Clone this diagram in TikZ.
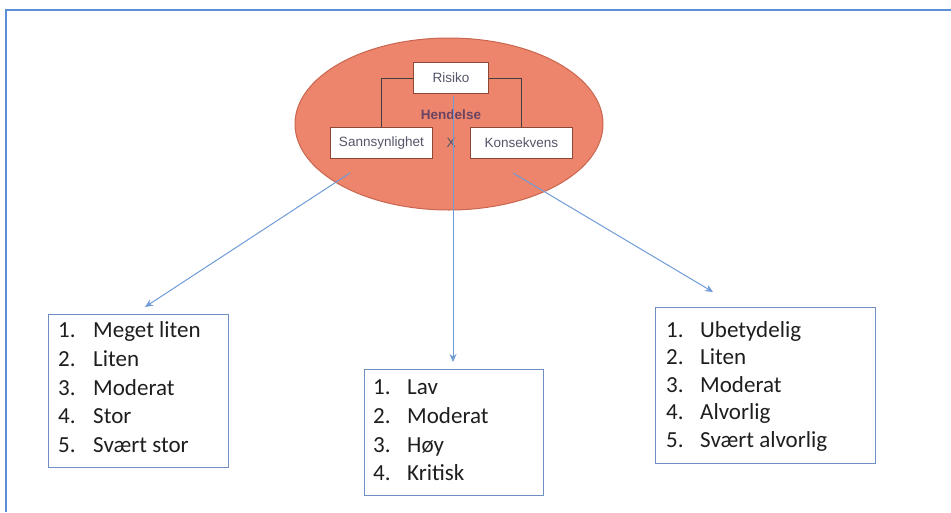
\documentclass[tikz,border=0pt]{standalone}
\usepackage{fontspec}
\setmainfont{Carlito}
\newfontfamily\arialf{Liberation Sans}
\usetikzlibrary{arrows.meta,shapes.geometric}
\definecolor{frameblue}{HTML}{5B8FD6}
\definecolor{arrowblue}{HTML}{6F9BD8}
\definecolor{boxblue}{HTML}{6F8FC4}
\definecolor{ellfill}{HTML}{EC856C}
\definecolor{elledge}{HTML}{C9664F}
\definecolor{smalltext}{HTML}{55556A}
\definecolor{listtext}{HTML}{1E1E1E}
\tikzset{
  listbox/.style={draw=boxblue, line width=0.9pt, fill=white, inner sep=0pt, anchor=north west},
  smallbox/.style={draw=elledge!70!black, line width=0.8pt, fill=white, inner sep=0pt, anchor=north west},
  smalllabel/.style={text=smalltext, inner sep=0pt, font=\arialf\fontsize{13.5}{15}\selectfont},
  num/.style={anchor=base west, inner sep=0pt, font=\fontsize{23}{27}\selectfont, text=listtext},
  item/.style={anchor=base west, inner sep=0pt, font=\fontsize{23}{27}\selectfont, text=listtext},
  conn/.style={draw=arrowblue, line width=1pt, -{Stealth[length=8pt,width=7pt]}},
  link/.style={draw=black!75, line width=0.8pt}
}
\begin{document}
\begin{tikzpicture}[x=1pt,y=-1pt]
\useasboundingbox (0,0) rectangle (951,512);
% outer frame
\draw[frameblue, line width=1.2pt] (6,512) -- (6,10) -- (951,10);
% ellipse
\node[draw=elledge, line width=1pt, fill=ellfill, ellipse, minimum width=308pt, minimum height=172pt, inner sep=0pt] (ell) at (449,124) {};
% inner boxes
\node[smallbox, minimum width=75pt, minimum height=31pt] (risiko) at (413,62) {};
\node[smalllabel] (risikot) at (risiko.center) {Risiko};
\node[smallbox, minimum width=102pt, minimum height=31pt] (sann) at (330,127) {};
\node[smalllabel] (sannt) at (sann.center) {Sannsynlighet};
\node[smallbox, minimum width=102pt, minimum height=31pt] (kons) at (470,127) {};
\node[smalllabel] (konst) at (kons.center) {Konsekvens};
\draw[link] (risiko.west) -| (sann.north);
\draw[link] (risiko.east) -| (kons.north);
\node[smalllabel, text=smalltext!80!purple, font=\arialf\bfseries\fontsize{13.5}{15}\selectfont] (hend) at (451,115) {Hendelse};
\node[smalllabel] (x) at (451,143) {X};
% list boxes
\node[listbox, minimum width=180pt, minimum height=153pt] (left) at (48,314) {};
\node[listbox, minimum width=179pt, minimum height=126pt] (mid) at (364,369) {};
\node[listbox, minimum width=220pt, minimum height=156pt] (right) at (655,307) {};
% left items
\foreach \n/\t/\y in {1/Meget liten/337,2/Liten/366,3/Moderat/395,4/Stor/423,5/Svært stor/452}{
  \node[num] (l\n) at (58,\y) {\n.};
  \node[item] (lt\n) at (93,\y) {\t};
}
\foreach \n/\t/\y in {1/Lav/394,2/Moderat/423,3/Høy/452,4/Kritisk/480}{
  \node[num] (m\n) at (373,\y) {\n.};
  \node[item] (mt\n) at (407,\y) {\t};
}
\foreach \n/\t/\y in {1/Ubetydelig/337,2/Liten/364,3/Moderat/392,4/Alvorlig/419,5/Svært alvorlig/447}{
  \node[num] (r\n) at (666,\y) {\n.};
  \node[item] (rt\n) at (700,\y) {\t};
}
% connectors
\coordinate (a1s) at (350,173);
\coordinate (a1e) at (145,307);
\coordinate (a2s) at (453,96);
\coordinate (a2e) at (453,362);
\coordinate (a3s) at (513,173);
\coordinate (a3e) at (713,292);
\draw[conn] (a1s) -- (a1e);
\draw[conn] (a2s) -- (a2e);
\draw[conn] (a3s) -- (a3e);
\end{tikzpicture}
\end{document}
